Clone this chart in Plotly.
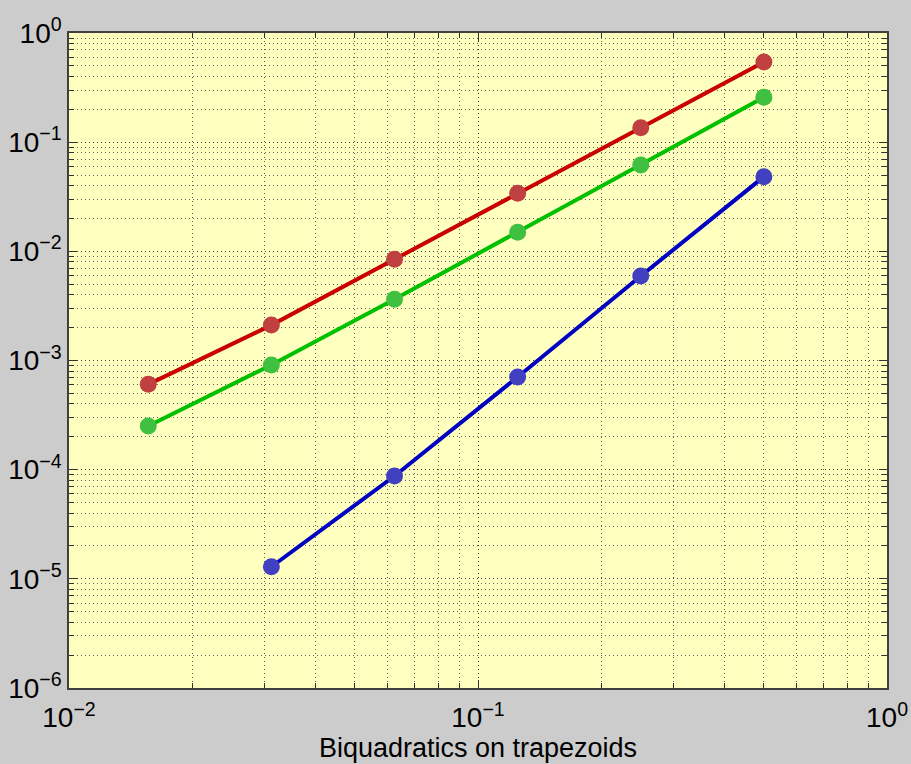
import plotly.graph_objects as go

# Data
h = [1/64, 1/32, 1/16, 1/8, 1/4, 1/2]
err_red = [6.05e-4, 2.11e-3, 8.45e-3, 3.40e-2, 1.357e-1, 5.42e-1]
err_green = [2.51e-4, 9.10e-4, 3.64e-3, 1.494e-2, 6.18e-2, 2.576e-1]
h_blue = [1/32, 1/16, 1/8, 1/4, 1/2]
err_blue = [1.29e-5, 8.75e-5, 7.06e-4, 5.94e-3, 4.83e-2]

x_exps = [-2, -1, 0]
y_exps = [-6, -5, -4, -3, -2, -1, 0]
x_title = "Biquadratics on trapezoids"

def sup_label(e):
    s = ("\u2212" + str(-e)) if e < 0 else str(e)
    return "10<sup>" + s + "</sup>"

def minor_vals(exps):
    vals = []
    for e in exps[:-1]:
        for m in range(2, 10):
            vals.append(m * 10 ** e)
    return vals

fig = go.Figure()
series = [
    (h, err_red, "#c80000", "#c04040"),
    (h, err_green, "#00c000", "#40c040"),
    (h_blue, err_blue, "#0000c0", "#4040c0"),
]
for xs, ys, lc, mc in series:
    fig.add_trace(go.Scatter(
        x=xs, y=ys, mode="lines+markers",
        line=dict(color=lc, width=4),
        marker=dict(color=mc, size=17, line=dict(width=0)),
        showlegend=False,
    ))

font = dict(family="Liberation Sans, Arial, sans-serif", size=28, color="#000000")
axis_common = dict(
    type="log",
    showline=True, linecolor="#404040", linewidth=1.5, mirror="ticks",
    ticks="inside", ticklen=8, tickwidth=1.2, tickcolor="#303030",
    showgrid=True, gridcolor="#404040", gridwidth=1, griddash="1px,3px",
    zeroline=False, automargin=False,
    tickfont=font,
)

fig.update_xaxes(
    **axis_common,
    range=[x_exps[0], x_exps[-1]],
    tickmode="array",
    tickvals=[10 ** e for e in x_exps],
    ticktext=[sup_label(e) for e in x_exps],
    ticklabelstandoff=4,
    minor=dict(tickmode="array", tickvals=minor_vals(x_exps), ticks="inside",
               ticklen=5, tickcolor="#303030", showgrid=True,
               gridcolor="#606060", griddash="1px,3px", gridwidth=1),
    title=dict(text=x_title, font=dict(family="Liberation Sans, Arial, sans-serif", size=27, color="#000000"), standoff=2),
)
fig.update_yaxes(
    **axis_common,
    range=[y_exps[0], y_exps[-1]],
    tickmode="array",
    tickvals=[10 ** e for e in y_exps],
    ticktext=[sup_label(e) for e in y_exps],
    minor=dict(tickmode="array", tickvals=minor_vals(y_exps), ticks="inside",
               ticklen=5, tickcolor="#303030", showgrid=True,
               gridcolor="#606060", griddash="1px,3px", gridwidth=1),
)

fig.update_layout(
    width=911, height=764,
    margin=dict(l=69, r=24, t=33, b=76),
    paper_bgcolor="#cccccc",
    plot_bgcolor="#ffffc0",
    showlegend=False,
)

fig.write_html("out.html", config={"displayModeBar": False},
               post_script="document.body.style.margin='0px';document.body.style.overflow='hidden';")
